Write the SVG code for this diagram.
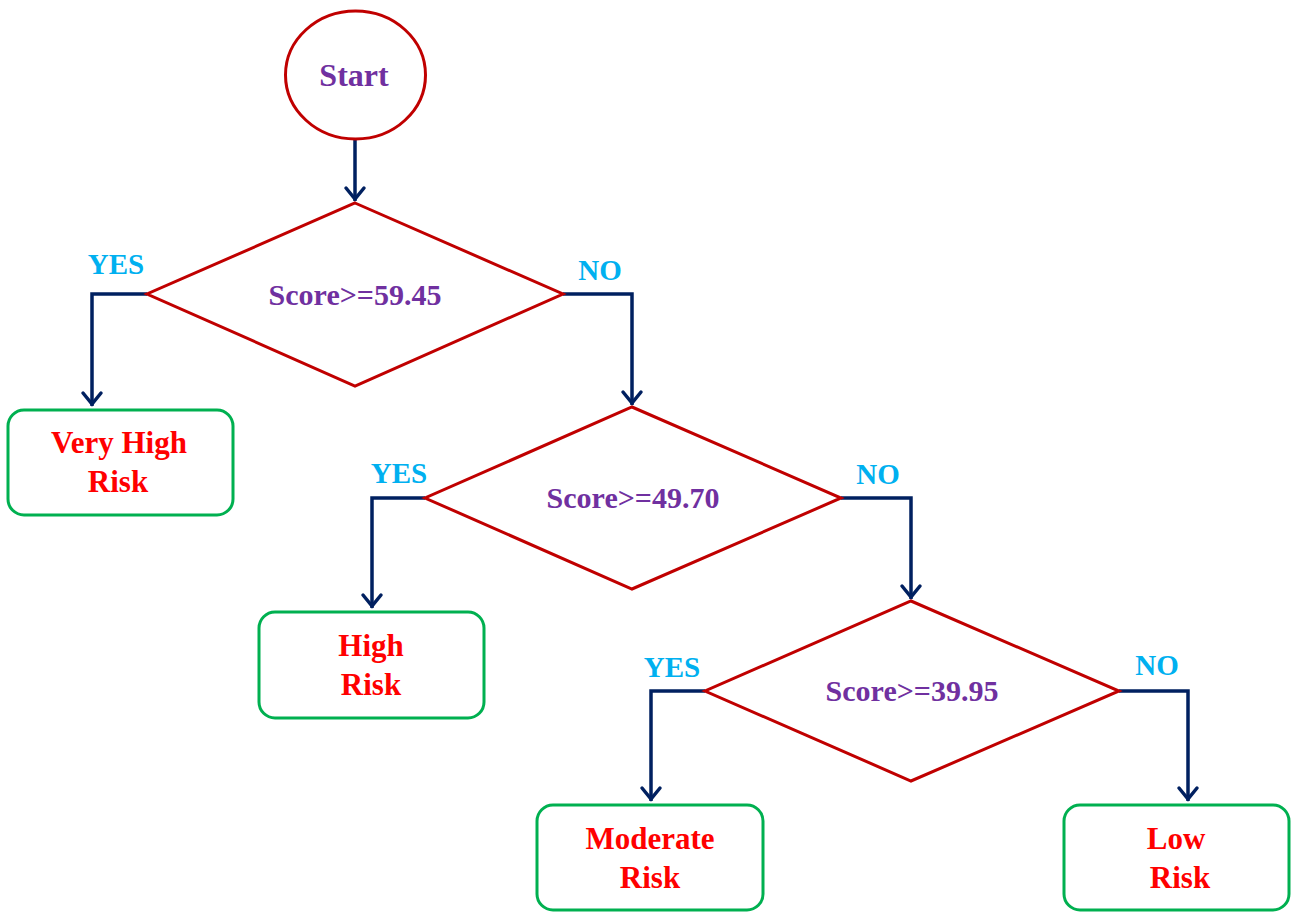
<svg xmlns="http://www.w3.org/2000/svg" width="1292" height="912" viewBox="0 0 1292 912">
<defs>
<style>
.dec{fill:#fff;stroke:#C00000;stroke-width:3}
.box{fill:#fff;stroke:#00B050;stroke-width:3}
.start{fill:#fff;stroke:#C00000;stroke-width:3}
.con{fill:none;stroke:#002060;stroke-width:3.5}
.head{fill:none;stroke:#002060;stroke-width:3.5;stroke-linecap:round;stroke-linejoin:miter}
.q{font-family:"Liberation Serif",serif;font-weight:bold;font-size:30px;fill:#7030A0;text-anchor:middle}
.st{font-size:32px}
.r{font-family:"Liberation Serif",serif;font-weight:bold;font-size:31px;fill:#FF0000;text-anchor:middle}
.lab{font-family:"Liberation Serif",serif;font-weight:bold;font-size:29px;fill:#00B0F0;text-anchor:middle}
</style>
</defs>
<g id="connectors">
<path class="con" d="M355,139 V201"/>
<path class="head" d="M346,188 L355,199 L364,188"/>
<path class="con" d="M147,294 H92 V406"/>
<path class="head" d="M83,393 L92,404 L101,393"/>
<path class="con" d="M563,294 H632 V405"/>
<path class="head" d="M623,392 L632,403 L641,392"/>
<path class="con" d="M425,498 H372 V608"/>
<path class="head" d="M363,595 L372,606 L381,595"/>
<path class="con" d="M841,498 H911 V599"/>
<path class="head" d="M902,586 L911,597 L920,586"/>
<path class="con" d="M705,691 H651 V801"/>
<path class="head" d="M642,788 L651,799 L660,788"/>
<path class="con" d="M1119,691 H1188 V801"/>
<path class="head" d="M1179,788 L1188,799 L1197,788"/>
<text class="lab" x="116" y="274">YES</text>
<text class="lab" x="600" y="280">NO</text>
<text class="lab" x="399" y="483">YES</text>
<text class="lab" x="878" y="484">NO</text>
<text class="lab" x="672" y="677">YES</text>
<text class="lab" x="1157" y="675">NO</text>
</g>
<g id="start">
<ellipse class="start" cx="355.5" cy="75" rx="70" ry="64"/>
<text class="q st" x="354" y="86">Start</text>
</g>
<g id="dec1">
<polygon class="dec" points="355,203 563,294 355,386 147,294"/>
<text class="q" x="355" y="305">Score&gt;=59.45</text>
</g>
<g id="dec2">
<polygon class="dec" points="632,407 841,498 632,589 425,498"/>
<text class="q" x="633" y="508">Score&gt;=49.70</text>
</g>
<g id="dec3">
<polygon class="dec" points="911,601 1119,691 911,781 705,691"/>
<text class="q" x="912" y="701">Score&gt;=39.95</text>
</g>
<g id="veryhigh">
<rect class="box" x="8" y="410" width="225" height="105" rx="16"/>
<text class="r" x="119" y="453">Very High</text>
<text class="r" x="118" y="492">Risk</text>
</g>
<g id="high">
<rect class="box" x="259" y="612" width="225" height="106" rx="16"/>
<text class="r" x="371" y="656">High</text>
<text class="r" x="371" y="695">Risk</text>
</g>
<g id="moderate">
<rect class="box" x="537" y="805" width="226" height="105" rx="16"/>
<text class="r" x="650" y="849">Moderate</text>
<text class="r" x="650" y="888">Risk</text>
</g>
<g id="low">
<rect class="box" x="1064" y="805" width="225" height="105" rx="16"/>
<text class="r" x="1176" y="849">Low</text>
<text class="r" x="1180" y="888">Risk</text>
</g>
</svg>
